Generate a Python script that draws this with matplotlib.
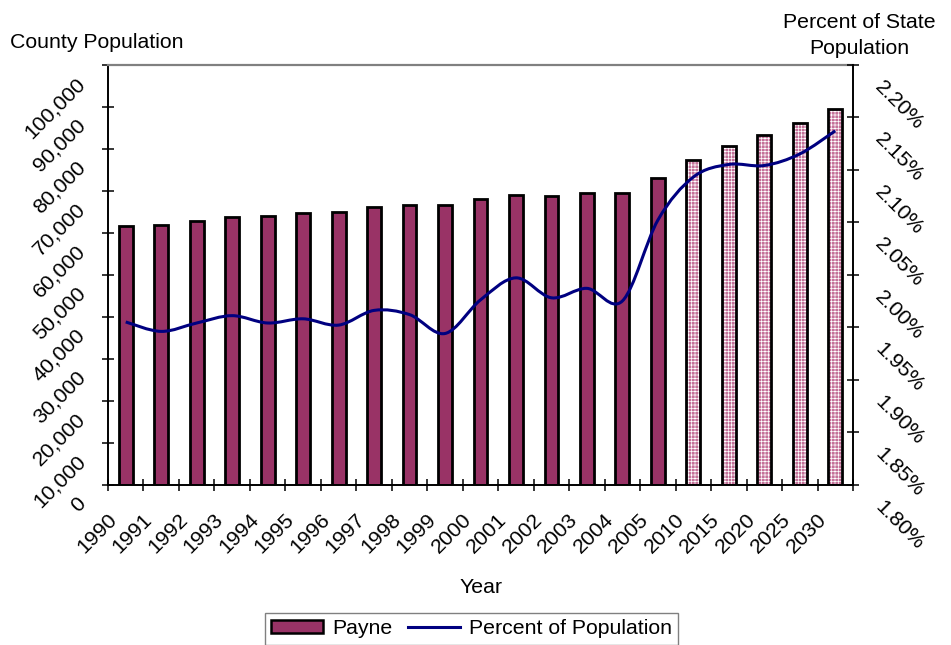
import numpy as np
import matplotlib
matplotlib.use("Agg")
import matplotlib.pyplot as plt
from matplotlib.path import Path
from matplotlib.patches import PathPatch, Patch
from matplotlib.lines import Line2D
from matplotlib.transforms import ScaledTranslation

# data
years = ["1990", "1991", "1992", "1993", "1994", "1995", "1996", "1997",
         "1998", "1999", "2000", "2001", "2002", "2003", "2004", "2005",
         "2010", "2015", "2020", "2025", "2030"]
population = [61500, 61750, 62780, 63730, 63970, 64690, 65000, 66200,
              66670, 66670, 68100, 69060, 68820, 69530, 69530, 73030,
              77400, 80580, 83360, 86220, 89400]
projected = [False] * 16 + [True] * 5
percent = [1.955, 1.946, 1.954, 1.961, 1.954, 1.958, 1.952, 1.966,
           1.962, 1.944, 1.976, 1.997, 1.978, 1.987, 1.975, 2.052,
           2.093, 2.105, 2.104, 2.115, 2.137]
left_ticks = [0, 10000, 20000, 30000, 40000, 50000, 60000, 70000, 80000,
              90000, 100000]
right_ticks = [1.80, 1.85, 1.90, 1.95, 2.00, 2.05, 2.10, 2.15, 2.20]

plum = "#993366"
navy = "#000080"
pink = "#c47098"
FS = 15.3

plt.rcParams["font.family"] = ["Liberation Sans", "DejaVu Sans"]
plt.rcParams["hatch.linewidth"] = 0.5

fig = plt.figure(figsize=(9.51, 6.45), dpi=100)
W, H = 951, 645
ax = fig.add_axes([108 / W, 1 - 484.7 / H, 745 / W, 420 / H])

x = np.arange(len(years))
bw = 0.39
solid = [i for i in x if not projected[i]]
proj = [i for i in x if projected[i]]
ax.bar([x[i] for i in solid], [population[i] for i in solid], width=bw,
       color=plum, edgecolor="black", linewidth=2.0, zorder=2)
ax.bar([x[i] for i in proj], [population[i] for i in proj], width=bw,
       color=pink, edgecolor="white", hatch="+++++", linewidth=0, zorder=2)
ax.bar([x[i] for i in proj], [population[i] for i in proj], width=bw,
       color="none", edgecolor="black", linewidth=2.0, zorder=3)

ax.set_xlim(-0.5, len(years) - 0.5)
ax.set_ylim(0, 100000)
ax.set_yticks(left_ticks)
ax.set_yticklabels([f"{v:,}" for v in left_ticks], rotation=45,
                   ha="right", va="center", rotation_mode="anchor",
                   fontsize=FS)
ax.tick_params(axis="y", direction="inout", length=8, width=1.1, pad=14.5)

ax.set_xticks(x)
ax.set_xticklabels(years, rotation=45, ha="right", va="center",
                   rotation_mode="anchor", fontsize=FS)
ax.set_xticks(np.arange(-0.5, len(years)), minor=True)
ax.tick_params(axis="x", which="major", length=0, pad=23)
ax.tick_params(axis="x", which="minor", direction="inout", length=8, width=1.1)

for s in ["left", "bottom"]:
    ax.spines[s].set_linewidth(1.4)
ax.spines["top"].set_color("#808080")
ax.spines["top"].set_linewidth(1.6)
ax.spines["right"].set_visible(False)

# right axis with smoothed line
ax2 = ax.twinx()
ax2.set_ylim(1.80, 2.20)
ax2.set_yticks(right_ticks)
ax2.set_yticklabels([f"{v:.2f}%" for v in right_ticks], rotation=-45,
                    ha="left", va="center", rotation_mode="anchor",
                    fontsize=FS)
ax2.tick_params(axis="y", direction="inout", length=8, width=1.1, pad=14)
for s in ["left", "top", "bottom"]:
    ax2.spines[s].set_visible(False)
ax2.spines["right"].set_linewidth(1.4)

pts = np.column_stack([x, percent]).astype(float)
verts = [pts[0]]
codes = [Path.MOVETO]
n = len(pts)
for i in range(n - 1):
    p0 = pts[i - 1] if i > 0 else pts[i]
    p3 = pts[i + 2] if i + 2 < n else pts[i + 1]
    c1 = pts[i] + (pts[i + 1] - p0) / 6
    c2 = pts[i + 1] - (p3 - pts[i]) / 6
    verts += [c1, c2, pts[i + 1]]
    codes += [Path.CURVE4] * 3
ax2.add_patch(PathPatch(Path(verts, codes), fill=False, edgecolor=navy,
                        linewidth=2.2, zorder=4))

# shift tick labels the way the original places them
down_y = ScaledTranslation(0, -0.16, fig.dpi_scale_trans)
for lab in ax.get_yticklabels():
    lab.set_transform(lab.get_transform() + down_y)
down_r = ScaledTranslation(0, -0.19, fig.dpi_scale_trans)
for lab in ax2.get_yticklabels():
    lab.set_transform(lab.get_transform() + down_r)
left_x = ScaledTranslation(-0.12, 0, fig.dpi_scale_trans)
for lab in ax.get_xticklabels():
    lab.set_transform(lab.get_transform() + left_x)

fig.text(481 / W, 1 - 593 / H, "Year", ha="center", va="baseline",
         fontsize=FS)
fig.text(10 / W, 1 - 48.3 / H, "County Population", ha="left",
         va="baseline", fontsize=FS)
fig.text(859 / W, 1 - 28.5 / H, "Percent of State", ha="center",
         va="baseline", fontsize=FS)
fig.text(859 / W, 1 - 54.5 / H, "Population", ha="center",
         va="baseline", fontsize=FS)

handles = [Patch(facecolor=plum, edgecolor="black", linewidth=1.8),
           Line2D([], [], color=navy, linewidth=2.2)]
leg = fig.legend(handles, ["Payne", "Percent of Population"], ncol=2,
                 loc="upper left", bbox_to_anchor=(265 / W, 1 - 613 / H),
                 borderaxespad=0, fontsize=FS, frameon=True, fancybox=False,
                 edgecolor="#606060", handlelength=2.45, handleheight=0.55,
                 handletextpad=0.4, columnspacing=0.75, borderpad=0.3)
leg.get_frame().set_linewidth(1.0)

fig.savefig("out.png", dpi=100)
